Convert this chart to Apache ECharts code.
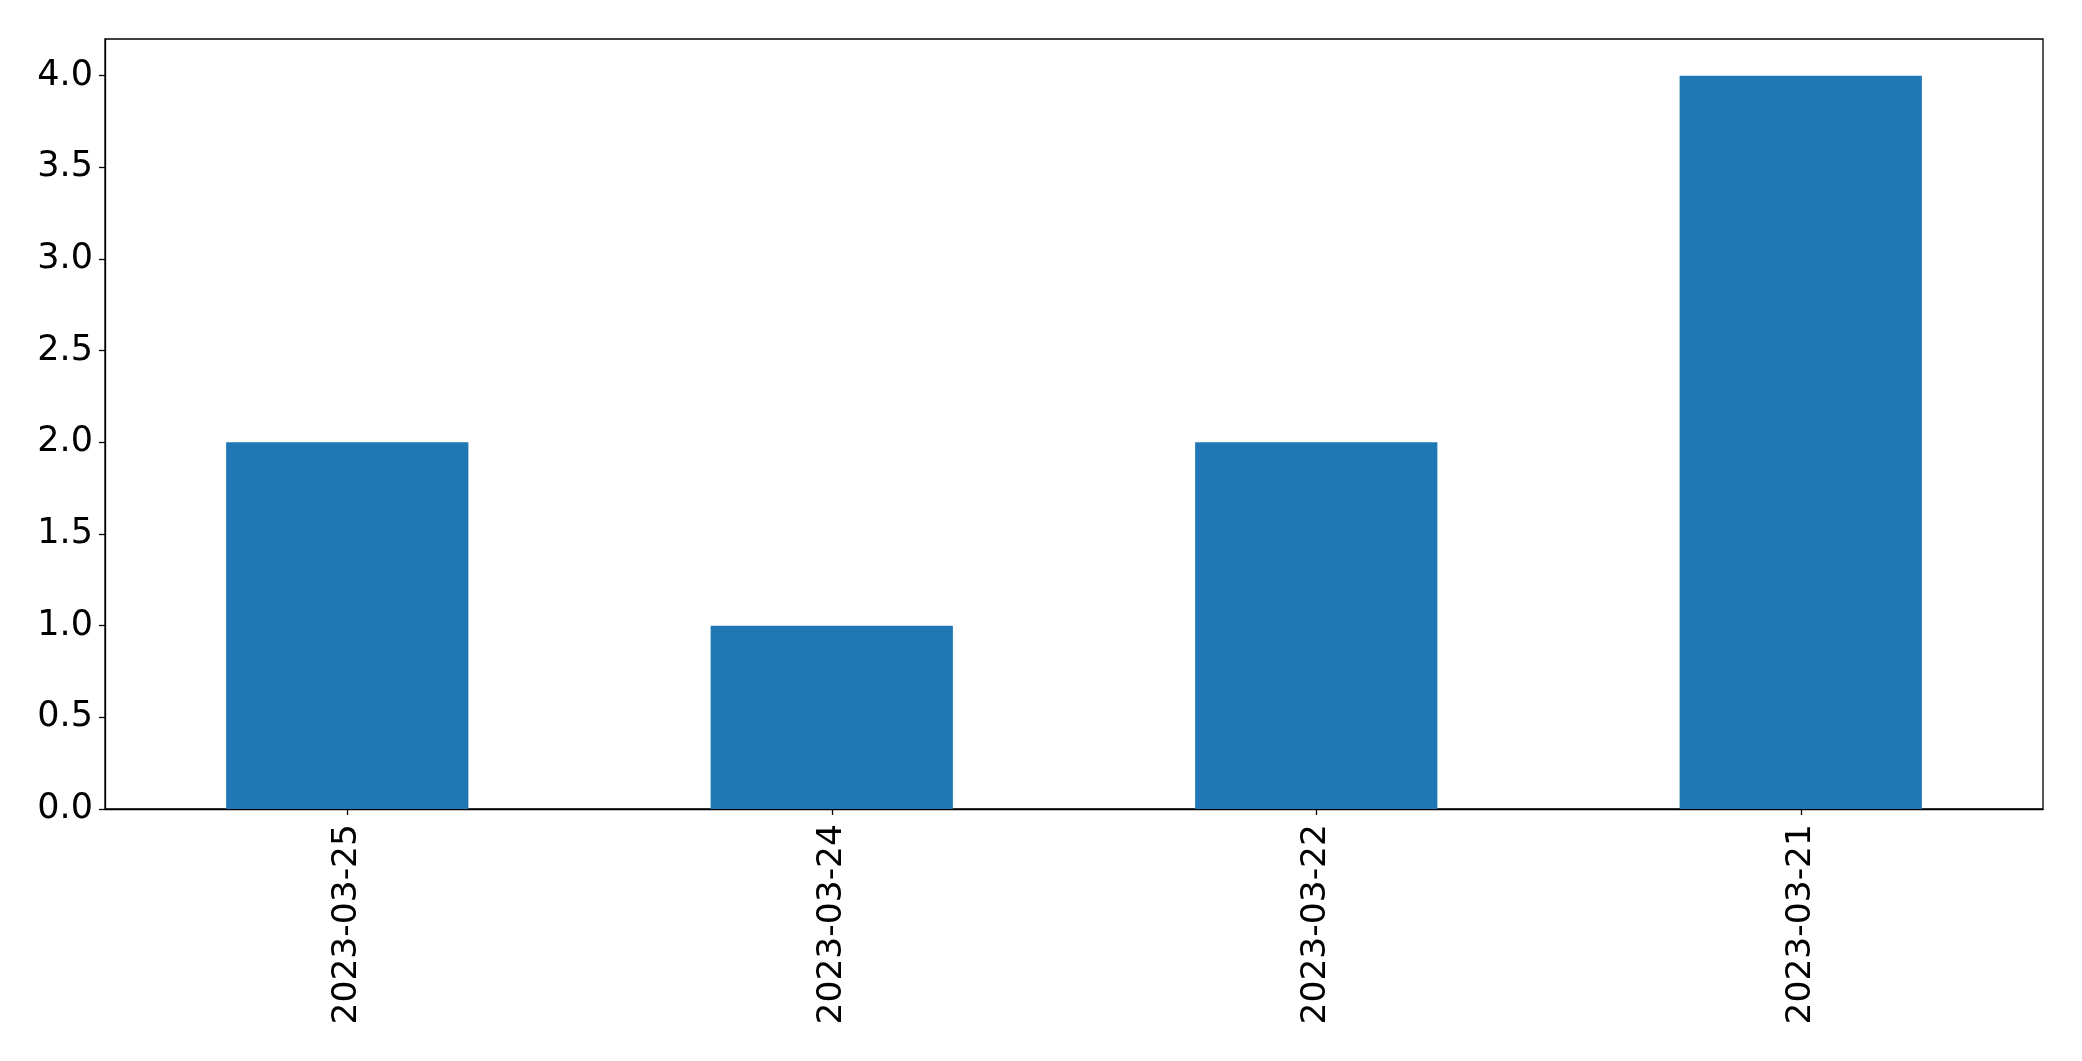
<!DOCTYPE html>
<html>
<head>
<meta charset="utf-8">
<script src="https://cdn.jsdelivr.net/npm/echarts@6/dist/echarts.min.js"></script>
<style>
html,body{margin:0;padding:0;background:#fff;}
#chart{width:2082px;height:1061px;}
</style>
</head>
<body>
<div id="chart"></div>
<script>
const categories = ['2023-03-25', '2023-03-24', '2023-03-22', '2023-03-21'];
const values = [2, 1, 2, 4];
const yTicks = [0, 0.5, 1.0, 1.5, 2.0, 2.5, 3.0, 3.5, 4.0];

const chart = echarts.init(document.getElementById('chart'), null, {renderer: 'canvas'});
const font = 'DejaVu Sans';
chart.setOption({
  animation: false,
  grid: {
    left: 105, right: 39, top: 39, bottom: 252,
    show: true, borderColor: '#000', borderWidth: 1.3, backgroundColor: '#fff'
  },
  xAxis: {
    type: 'category',
    data: categories,
    axisLine: {show: true, lineStyle: {color: '#000', width: 1.3}},
    axisTick: {show: true, alignWithLabel: true, length: 6, lineStyle: {color: '#000', width: 1.3}},
    axisLabel: {rotate: 90, margin: 15, color: '#000', fontSize: 34.5, fontFamily: font},
    splitLine: {show: false}
  },
  yAxis: {
    type: 'value',
    min: 0, max: 4.2,
    axisLine: {show: true, lineStyle: {color: '#000', width: 1.3}},
    axisTick: {show: true, length: 6, customValues: yTicks, lineStyle: {color: '#000', width: 1.3}},
    axisLabel: {
      customValues: yTicks, margin: 12, color: '#000', fontSize: 35, fontFamily: font,
      padding: [4, 0, 0, 0],
      formatter: v => Number(v).toFixed(1)
    },
    splitLine: {show: false}
  },
  series: [{
    type: 'bar',
    data: values,
    barWidth: '50%',
    itemStyle: {color: '#1f77b4'}
  }]
});
</script>
</body>
</html>
